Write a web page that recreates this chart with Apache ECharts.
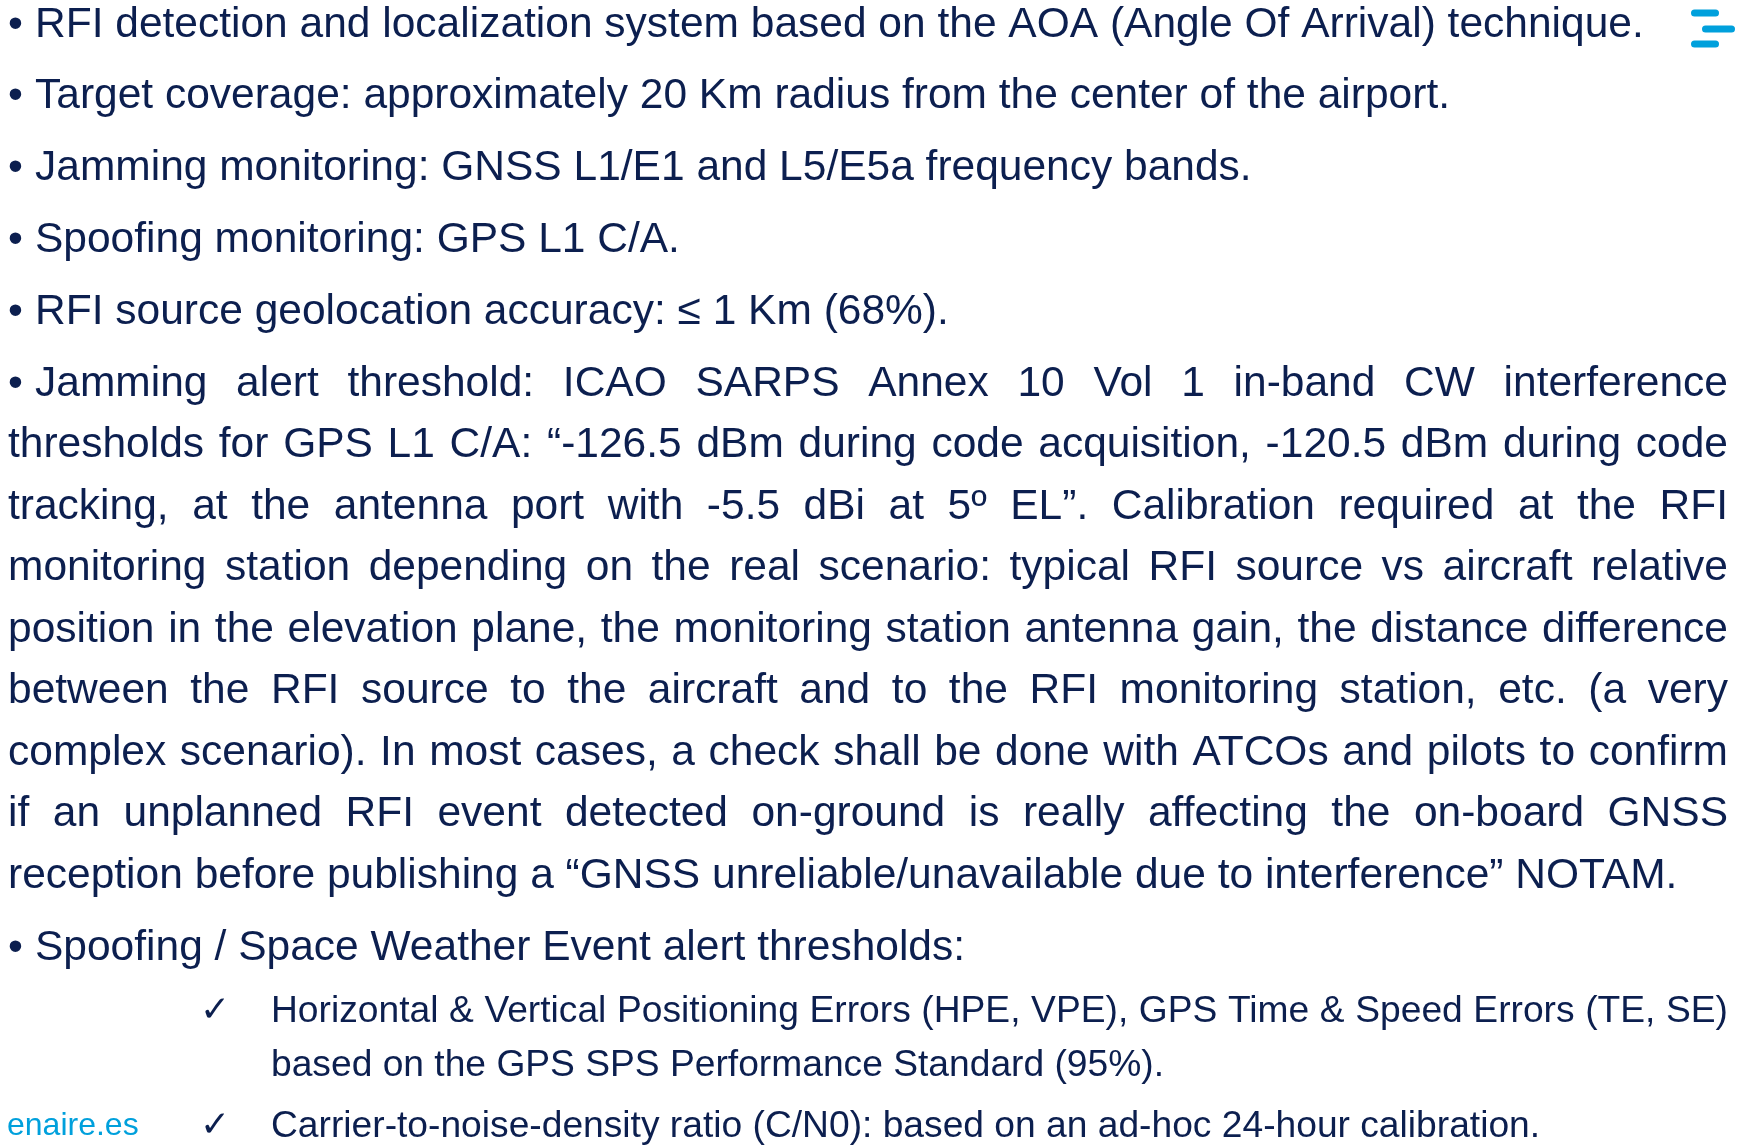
<!DOCTYPE html>
<html lang="en">
<head>
  <meta charset="utf-8">
  <title>RFI monitoring slide</title>
  <script src="https://cdn.jsdelivr.net/npm/echarts@6/dist/echarts.min.js"></script>
  <style type="text/css">
    html, body { margin: 0; padding: 0; background: #fff; }
    #main { width: 1750px; height: 1146px; }
  </style>
</head>
<body>
<div id="main"></div>
<script type="text/javascript">

  const bulletLines = [
    'RFI detection and localization system based on the AOA (Angle Of Arrival) technique.',
    'Target coverage: approximately 20 Km radius from the center of the airport.',
    'Jamming monitoring: GNSS L1/E1 and L5/E5a frequency bands.',
    'Spoofing monitoring: GPS L1 C/A.',
    'RFI source geolocation accuracy: \u2264 1 Km (68%).'
  ];
  const jammingLines = [
    'Jamming alert threshold: ICAO SARPS Annex 10 Vol 1 in-band CW interference',
    'thresholds for GPS L1 C/A: \u201c-126.5 dBm during code acquisition, -120.5 dBm during code',
    'tracking, at the antenna port with -5.5 dBi at 5\u00ba EL\u201d. Calibration required at the RFI',
    'monitoring station depending on the real scenario: typical RFI source vs aircraft relative',
    'position in the elevation plane, the monitoring station antenna gain, the distance difference',
    'between the RFI source to the aircraft and to the RFI monitoring station, etc. (a very',
    'complex scenario). In most cases, a check shall be done with ATCOs and pilots to confirm',
    'if an unplanned RFI event detected on-ground is really affecting the on-board GNSS',
    'reception before publishing a \u201cGNSS unreliable/unavailable due to interference\u201d NOTAM.'
  ];
  const spoofingTitle = 'Spoofing / Space Weather Event alert thresholds:';
  const checkItems = [
    ['Horizontal & Vertical Positioning Errors (HPE, VPE), GPS Time & Speed Errors (TE, SE)',
     'based on the GPS SPS Performance Standard (95%).'],
    ['Carrier-to-noise-density ratio (C/N0): based on an ad-hoc 24-hour calibration.']
  ];
  const footerText = 'enaire.es';

  const FONT = '"Liberation Sans", Arial, sans-serif';
  const INK = '#0c1f4f';
  const CYAN = '#00a0dc';
  const MAIN_SIZE = 42.5;
  const SUB_SIZE = 37.2;
  const RIGHT = 1728;

  // measure words with the same canvas font ECharts will use
  const ctx = document.createElement('canvas').getContext('2d');
  function measure(str, size) {
    ctx.font = size + 'px ' + FONT;
    return ctx.measureText(str).width;
  }

  function textEl(str, x, y, size, fill) {
    return {
      type: 'text', x: x, y: y, silent: true,
      style: {
        text: str, fontSize: size, fontFamily: FONT, fill: fill || INK,
        textVerticalAlign: 'middle', verticalAlign: 'middle'
      }
    };
  }

  // one line of text, optionally stretched to the right margin
  function lineEls(str, x0, y, size, justify) {
    if (!justify) return [textEl(str, x0, y, size)];
    const words = str.split(' ');
    const widths = words.map(w => measure(w, size));
    const total = widths.reduce((a, b) => a + b, 0);
    const gap = (RIGHT - x0 - total) / (words.length - 1);
    let x = x0;
    return words.map((w, i) => {
      const el = textEl(w, x, y, size);
      x += widths[i] + gap;
      return el;
    });
  }

  let els = [];

  // simple bullets
  bulletLines.forEach((s, i) => {
    const y = 25 + i * 71.7;
    els.push(textEl('\u2022', 8, y, MAIN_SIZE));
    els = els.concat(lineEls(s, 35, y, MAIN_SIZE, false));
  });

  // jamming paragraph (justified, last line ragged)
  jammingLines.forEach((s, i) => {
    const y = 384 + i * 61.5;
    const last = i === jammingLines.length - 1;
    if (i === 0) {
      els.push(textEl('\u2022', 8, y, MAIN_SIZE));
      els = els.concat(lineEls(s, 35, y, MAIN_SIZE, true));
    } else {
      els = els.concat(lineEls(s, 8, y, MAIN_SIZE, !last));
    }
  });

  // spoofing title
  els.push(textEl('\u2022', 8, 948, MAIN_SIZE));
  els.push(textEl(spoofingTitle, 35, 948, MAIN_SIZE));

  // check items
  const checkY = [[1012, 1066], [1127]];
  checkItems.forEach((lines, k) => {
    els.push({
      type: 'text', x: 200, y: checkY[k][0], silent: true,
      style: { text: '\u2713', fontSize: 36, fontWeight: 'bold', fontFamily: '"DejaVu Sans", sans-serif', fill: INK,
        textVerticalAlign: 'middle', verticalAlign: 'middle' }
    });
    lines.forEach((s, j) => {
      const justify = j < lines.length - 1;
      els = els.concat(lineEls(s, 271, checkY[k][j], SUB_SIZE, justify));
    });
  });

  // footer + menu icon
  els.push(textEl(footerText, 7, 1126, 32, CYAN));
  [[1691, 13, 28], [1702, 29, 33], [1691, 44, 28]].forEach(b => {
    els.push({
      type: 'rect', silent: true,
      shape: { x: b[0], y: b[1] - 3.5, width: b[2], height: 7, r: 3.5 },
      style: { fill: CYAN }
    });
  });

  const myChart = echarts.init(document.getElementById('main'));
  myChart.setOption({
    backgroundColor: '#ffffff',
    animation: false,
    graphic: els
  });

</script>
</body>
</html>
